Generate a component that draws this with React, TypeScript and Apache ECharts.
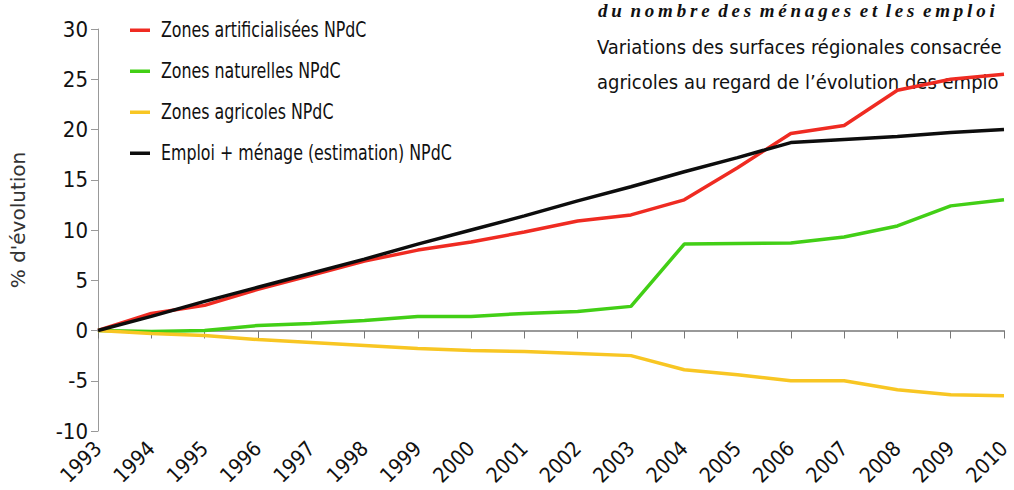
import React, { useEffect, useRef } from "react";
import * as echarts from "echarts";

const years = ["1993","1994","1995","1996","1997","1998","1999","2000","2001","2002","2003","2004","2005","2006","2007","2008","2009","2010"];
const artificialisees = [0, 1.7, 2.5, 4.1, 5.5, 6.9, 8.0, 8.8, 9.8, 10.9, 11.5, 13.0, 16.2, 19.6, 20.4, 23.9, 25.0, 25.5];
const naturelles = [0, -0.1, 0.0, 0.5, 0.7, 1.0, 1.4, 1.4, 1.7, 1.9, 2.4, 8.6, 8.65, 8.7, 9.3, 10.4, 12.4, 13.0];
const agricoles = [0, -0.3, -0.5, -0.9, -1.2, -1.5, -1.8, -2.0, -2.1, -2.3, -2.5, -3.9, -4.4, -5.0, -5.0, -5.9, -6.4, -6.5];
const emploiMenage = [0, 1.4, 2.9, 4.3, 5.7, 7.1, 8.6, 10.0, 11.4, 12.9, 14.3, 15.8, 17.2, 18.7, 19.0, 19.3, 19.7, 20.0];

const seriesNames = [
  "Zones artificialisées NPdC",
  "Zones naturelles NPdC",
  "Zones agricoles NPdC",
  "Emploi + ménage (estimation) NPdC",
];
const colors = ["#ef2b22", "#42cf16", "#f8c623", "#0d0d0d"];
const legendRowsY = [30, 71, 112, 153];

const titleLine = "du nombre des ménages et les emploi";
const subLine1 = "Variations des surfaces régionales consacrée";
const subLine2 = "agricoles au regard de l’évolution des emplo";

const condensed = "'DejaVu Sans Condensed', 'DejaVu Sans', sans-serif";
const THIN = "\u2009";

function spaced(s: string) {
  return s
    .split(" ")
    .map((w) => w.split("").join(THIN))
    .join("\u00a0" + THIN);
}

export default function App() {
  const ref = useRef<HTMLDivElement>(null);
  useEffect(() => {
    if (!ref.current) return;
    const chart = echarts.init(ref.current, null, { renderer: "svg" });
    const dataSets = [artificialisees, naturelles, agricoles, emploiMenage];
    const legendGraphics: any[] = [];
    seriesNames.forEach((n, i) => {
      legendGraphics.push({
        type: "rect",
        shape: { x: 130, y: legendRowsY[i] - 1.5, width: 20, height: 3.5 },
        style: { fill: colors[i] },
      });
      legendGraphics.push({
        type: "text",
        x: 161,
        y: legendRowsY[i],
        scaleX: 0.8,
        style: {
          text: n,
          font: "22px " + condensed,
          fill: "#111",
          textVerticalAlign: "middle",
          verticalAlign: "middle",
        },
      });
    });
    chart.setOption({
      animation: false,
      backgroundColor: "#ffffff",
      grid: {
        left: 98,
        right: 10,
        top: 29,
        bottom: 59,
        containLabel: false,
        outerBoundsMode: "none",
      },
      xAxis: {
        type: "category",
        data: years,
        boundaryGap: false,
        axisLine: { lineStyle: { color: "#777", width: 1.5 } },
        axisTick: { show: true, length: 8, alignWithLabel: true, lineStyle: { color: "#777" } },
        axisLabel: {
          rotate: 45,
          fontFamily: condensed,
          fontSize: 21,
          color: "#111",
          margin: 14,
          interval: 0,
        },
        splitLine: { show: false },
      },
      yAxis: {
        type: "value",
        min: -10,
        max: 30,
        interval: 5,
        name: "% d'évolution",
        nameLocation: "middle",
        nameGap: 70,
        nameTextStyle: {
          fontFamily: "'DejaVu Sans', sans-serif",
          fontSize: 20,
          color: "#333",
          padding: [0, 0, 0, 20],
        },
        axisLine: { show: true, lineStyle: { color: "#999" } },
        axisTick: { show: true, length: 7, lineStyle: { color: "#999" } },
        axisLabel: { fontFamily: condensed, fontSize: 22, color: "#111", margin: 10 },
        splitLine: { show: false },
      },
      series: dataSets.map((d, i) => ({
        name: seriesNames[i],
        type: "line",
        data: d,
        symbol: "none",
        z: i === 3 ? 5 : 3,
        lineStyle: { color: colors[i], width: 3.5 },
        itemStyle: { color: colors[i] },
        markLine:
          i === 0
            ? {
                silent: true,
                symbol: "none",
                label: { show: false },
                lineStyle: { color: "#999", width: 1, type: "solid" },
                data: [{ yAxis: 0 }],
                z: 1,
              }
            : undefined,
      })),
      graphic: [
        ...legendGraphics,
        {
          type: "text",
          x: 598,
          y: 1,
          style: {
            text: spaced(titleLine),
            font: "italic bold 19px 'Liberation Serif', 'DejaVu Serif', serif",
            fill: "#111",
            textVerticalAlign: "top",
            verticalAlign: "top",
          },
        },
        {
          type: "text",
          x: 597,
          y: 47,
          style: {
            text: subLine1,
            font: "20px " + condensed,
            fill: "#111",
            verticalAlign: "middle",
            textVerticalAlign: "middle",
          },
        },
        {
          type: "text",
          x: 597,
          y: 82,
          style: {
            text: subLine2,
            font: "20px " + condensed,
            fill: "#111",
            verticalAlign: "middle",
            textVerticalAlign: "middle",
          },
        },
      ],
    });
    return () => chart.dispose();
  }, []);
  return (
    <div
      ref={ref}
      style={{ position: "fixed", left: 0, top: 0, width: 1014, height: 490, overflow: "hidden" }}
    />
  );
}
